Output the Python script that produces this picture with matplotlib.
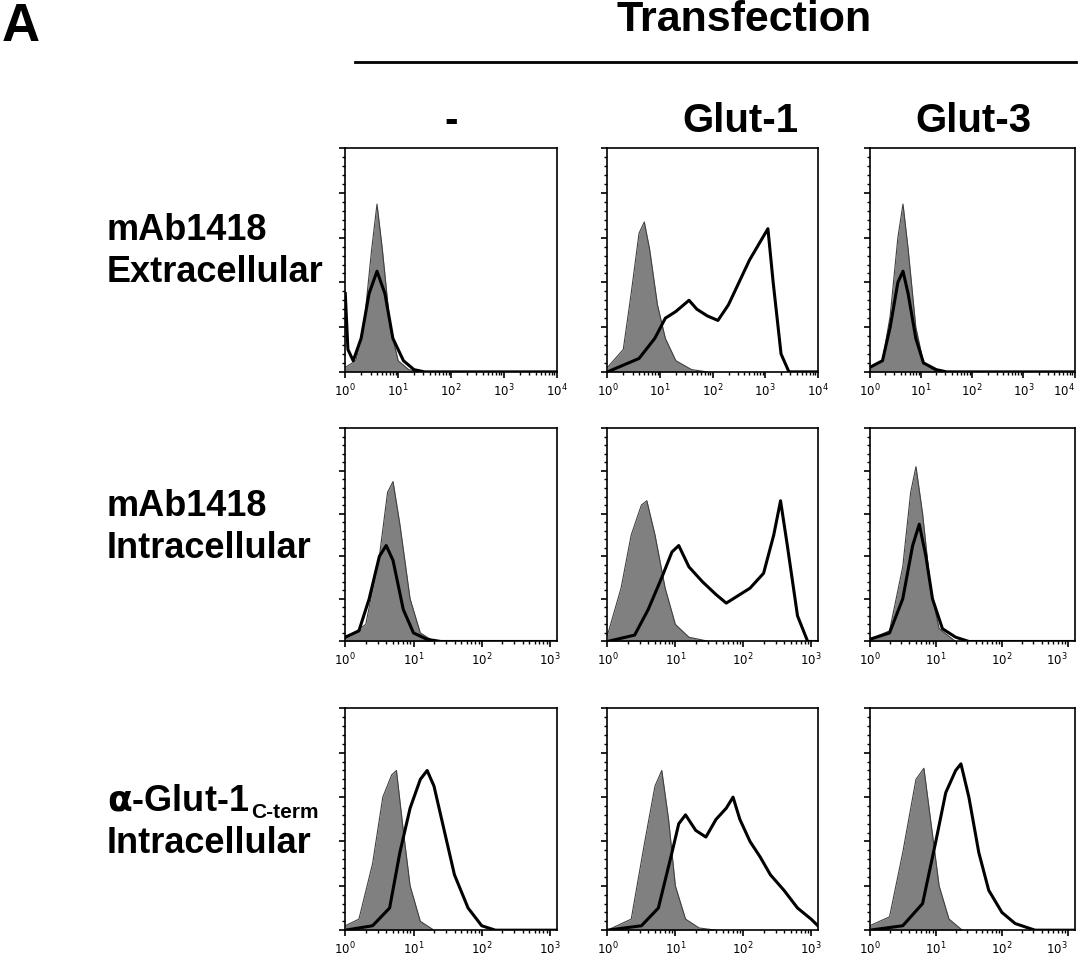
import numpy as np
import matplotlib.pyplot as plt
from matplotlib.ticker import FixedLocator

plt.rcParams['font.family'] = ['Liberation Sans', 'DejaVu Sans']

col_titles = ['-', 'Glut-1', 'Glut-3']
decades = [4.0, 3.1, 3.1]   # x range per row, in log10 units

# (log10 intensity, relative count)
iso = [
    [[(0, .02), (.2, .05), (.35, .2), (.5, .55), (.6, .75), (.7, .55), (.85, .2), (1.0, .05), (1.2, .01), (1.4, 0)],
     [(0, .02), (.3, .1), (.45, .35), (.6, .62), (.7, .67), (.8, .55), (.95, .3), (1.1, .15), (1.3, .05), (1.6, .01), (1.9, 0)],
     [(0, .02), (.25, .05), (.4, .25), (.55, .6), (.65, .75), (.75, .55), (.9, .2), (1.05, .04), (1.3, 0)]],
    [[(0, .01), (.3, .08), (.5, .4), (.62, .7), (.7, .75), (.8, .55), (.95, .2), (1.1, .04), (1.3, 0)],
     [(0, .03), (.2, .25), (.35, .5), (.5, .64), (.58, .66), (.7, .5), (.85, .25), (1.0, .08), (1.2, .02), (1.5, 0)],
     [(0, .01), (.3, .05), (.5, .35), (.62, .7), (.7, .82), (.8, .6), (.92, .25), (1.05, .06), (1.3, 0)]],
    [[(0, .02), (.2, .05), (.4, .3), (.55, .6), (.68, .7), (.75, .72), (.85, .45), (.95, .2), (1.1, .04), (1.3, 0)],
     [(0, 0), (.35, .05), (.55, .4), (.7, .65), (.8, .72), (.9, .5), (1.0, .2), (1.15, .05), (1.35, .01), (1.6, 0)],
     [(0, .02), (.3, .06), (.5, .35), (.7, .68), (.82, .73), (.92, .5), (1.05, .2), (1.2, .05), (1.4, 0)]],
]
stain = [
    [[(0, .35), (.05, .1), (.15, .05), (.3, .15), (.45, .35), (.6, .45), (.75, .35), (.9, .15), (1.1, .05), (1.3, .01), (1.5, 0), (4, 0)],
     [(0, 0), (.3, .03), (.6, .06), (.9, .15), (1.1, .24), (1.3, .27), (1.55, .32), (1.7, .28), (1.9, .25), (2.1, .23), (2.3, .3), (2.5, .4), (2.7, .5), (2.9, .58), (3.05, .64), (3.15, .4), (3.3, .08), (3.45, 0), (4, 0)],
     [(0, .02), (.25, .05), (.4, .2), (.55, .4), (.65, .45), (.75, .35), (.9, .15), (1.05, .04), (1.3, .01), (1.5, 0), (4, 0)]],
    [[(0, .02), (.2, .05), (.35, .2), (.5, .4), (.6, .45), (.7, .38), (.85, .15), (1.0, .04), (1.2, .01), (1.4, 0), (3.1, 0)],
     [(0, 0), (.4, .03), (.6, .15), (.8, .3), (.95, .42), (1.05, .45), (1.2, .35), (1.4, .28), (1.6, .22), (1.75, .18), (1.9, .21), (2.1, .25), (2.3, .32), (2.45, .5), (2.55, .66), (2.65, .45), (2.8, .12), (2.95, 0), (3.1, 0)],
     [(0, .01), (.3, .04), (.5, .2), (.65, .45), (.75, .55), (.85, .4), (.95, .2), (1.1, .06), (1.3, .02), (1.5, 0), (3.1, 0)]],
    [[(0, 0), (.4, .02), (.65, .1), (.8, .35), (.95, .55), (1.1, .68), (1.2, .72), (1.3, .65), (1.45, .45), (1.6, .25), (1.8, .1), (2.0, .02), (2.2, 0), (3.1, 0)],
     [(0, 0), (.5, .02), (.75, .1), (.95, .35), (1.05, .48), (1.15, .52), (1.3, .45), (1.45, .42), (1.6, .5), (1.75, .55), (1.85, .6), (1.95, .5), (2.1, .4), (2.25, .33), (2.4, .25), (2.6, .18), (2.8, .1), (3.0, .05), (3.1, .02)],
     [(0, 0), (.5, .02), (.8, .12), (1.0, .4), (1.15, .62), (1.3, .72), (1.38, .75), (1.5, .6), (1.65, .35), (1.8, .18), (2.0, .08), (2.2, .03), (2.5, 0), (3.1, 0)]],
]
row_labels = [('mAb1418', 'Extracellular'), ('mAb1418', 'Intracellular'),
              (r'$\mathbf{\alpha}$-Glut-1', 'Intracellular')]

fig = plt.figure(figsize=(10.79, 9.56), dpi=100)
lefts = [0.320, 0.563, 0.806]
widths = [0.196, 0.195, 0.190]
rows = [(0.611, 0.234), (0.329, 0.223), (0.027, 0.232)]

for r in range(3):
    for c in range(3):
        b, h = rows[r]
        ax = fig.add_axes([lefts[c], b, widths[c], h])
        f = np.array(iso[r][c])
        s = np.array(stain[r][c])
        ax.fill_between(f[:, 0], f[:, 1], color='#808080', lw=0)
        ax.plot(f[:, 0], f[:, 1], color='#404040', lw=0.8)
        ax.plot(s[:, 0], s[:, 1], color='black', lw=2.2)
        ax.set_xlim(0, decades[r])
        ax.set_ylim(0, 1)
        nd = int(decades[r])
        ax.set_xticks(range(nd + 1))
        ax.set_xticklabels([r'$10^{%d}$' % k for k in range(nd + 1)], fontsize=8.5)
        if c == 2:
            ax.get_xticklabels()[-1].set_horizontalalignment('right')
        minors = [k + np.log10(m) for k in range(nd + 1) for m in range(2, 10) if k + np.log10(m) < decades[r]]
        ax.xaxis.set_minor_locator(FixedLocator(minors))
        ax.yaxis.set_major_locator(FixedLocator(np.arange(0, 1.01, 0.2)))
        ax.yaxis.set_minor_locator(FixedLocator(np.arange(0, 1.0, 0.04)))
        ax.set_yticklabels([])
        ax.tick_params(direction='out', length=4, width=1.2)
        ax.tick_params(which='minor', direction='out', length=2.5, width=1)
        for sp in ax.spines.values():
            sp.set_linewidth(1.2)

fig.text(0.002, 0.972, 'A', fontsize=38, fontweight='bold', va='center')
fig.text(0.69, 0.979, 'Transfection', fontsize=31, fontweight='bold', ha='center', va='center')
fig.add_artist(plt.Line2D([0.329, 0.997], [0.935, 0.935], color='black', lw=2))
for c, t in enumerate(col_titles):
    fig.text([0.418, 0.686, 0.902][c], 0.873, t, fontsize=29, fontweight='bold', ha='center', va='center')

label_y = [0.737, 0.448, 0.14]
for r, (a, b2) in enumerate(row_labels):
    fig.text(0.099, label_y[r] + 0.022, a, fontsize=26, fontweight='bold', va='center')
    fig.text(0.099, label_y[r] - 0.022, b2, fontsize=26, fontweight='bold', va='center')
fig.text(0.233, label_y[2] + 0.010, 'C-term', fontsize=15, fontweight='bold', va='center')

fig.savefig('out.png', dpi=100)
